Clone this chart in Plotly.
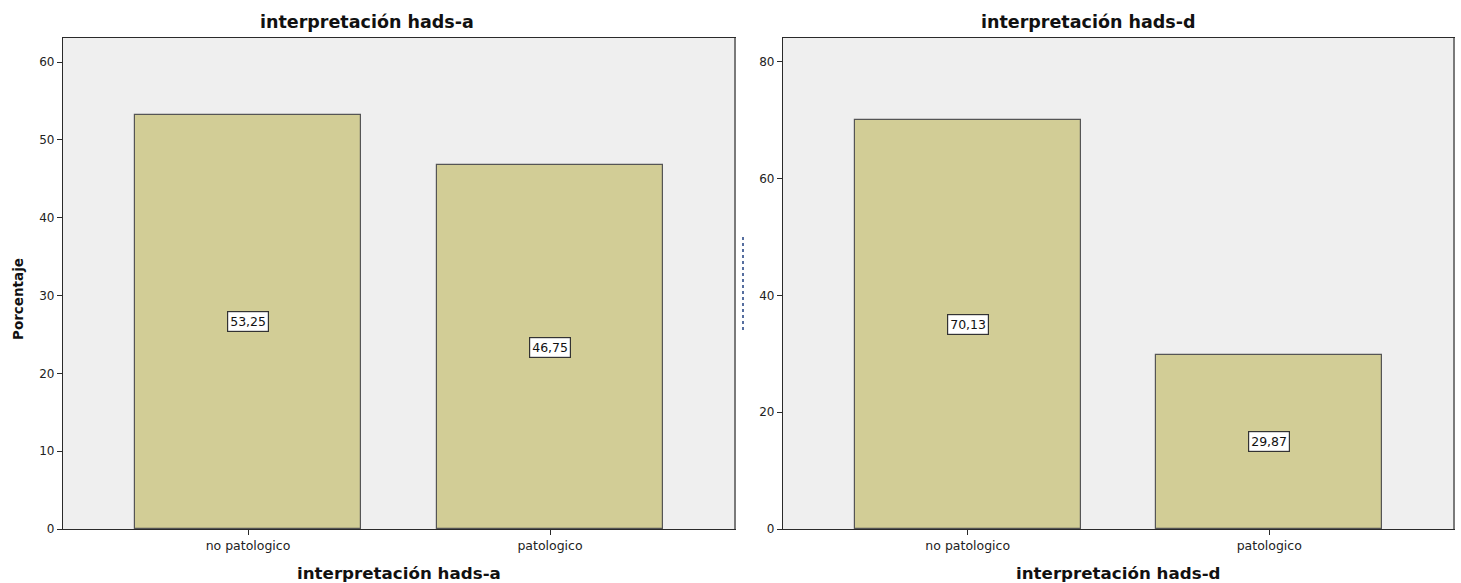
import plotly.graph_objects as go

categories = ["no patologico", "patologico"]
hads_a = [53.25, 46.75]
hads_d = [70.13, 29.87]
titles = ["interpretación hads-a", "interpretación hads-d"]
y_ticks_a = [0, 10, 20, 30, 40, 50, 60]
y_ticks_d = [0, 20, 40, 60, 80]

W, H = 1461, 583
H_EFF = 576  # rendered height observed in the capture
def px_x(p): return p / W
def px_y(p): return 1 - p / H_EFF

BAR = "#d2cd96"
BG = "#efefef"
DARK = "#2a2a2a"
FONT = "DejaVu Sans"

fig = go.Figure()
xs = [0, 1]
for i, (vals, xa, ya) in enumerate([(hads_a, "x", "y"), (hads_d, "x2", "y2")]):
    fig.add_trace(go.Bar(x=xs, y=vals, xaxis=xa, yaxis=ya, width=0.748,
                         marker=dict(color=BAR, line=dict(color="#555555", width=1.2)),
                         showlegend=False, hoverinfo="skip"))
    for xv, v in zip(xs, vals):
        fig.add_annotation(x=xv, y=v / 2, xref=xa, yref=ya, showarrow=False,
                           yanchor="middle",
                           text=f"{v:.2f}".replace(".", ","),
                           font=dict(family=FONT, size=12.5, color="#111111"),
                           bgcolor="white", bordercolor="#333333", borderwidth=1.2, borderpad=2)

xdom1 = [px_x(63), px_x(735)]
xdom2 = [px_x(783), px_x(1454)]
ydom = [px_y(529), px_y(38)]
xrange = [-0.6126, 1.6126]

common_x = dict(range=xrange, tickmode="array", tickvals=xs, ticktext=categories,
                ticks="outside", ticklen=5, tickcolor=DARK, showline=True, linecolor=DARK,
                linewidth=1.2, mirror=True, showgrid=False, zeroline=False,
                tickfont=dict(family=FONT, size=12.5, color="#222222"), fixedrange=True)
common_y = dict(ticks="outside", ticklen=5, tickcolor=DARK, showline=True, linecolor=DARK,
                linewidth=1.2, mirror=True, showgrid=False, zeroline=False,
                tickfont=dict(family=FONT, size=12, color="#222222"), fixedrange=True)

fig.update_layout(
    width=W, height=H, margin=dict(l=0, r=0, t=0, b=0), autosize=False,
    paper_bgcolor="white", plot_bgcolor=BG, bargap=0,
    xaxis=dict(domain=xdom1, anchor="y", **common_x),
    yaxis=dict(domain=ydom, anchor="x", range=[0, 63.1], tickvals=y_ticks_a, **common_y),
    xaxis2=dict(domain=xdom2, anchor="y2", **common_x),
    yaxis2=dict(domain=ydom, anchor="x2", range=[0, 84.1], tickvals=y_ticks_d, **common_y),
)

# titles
for cx, t in [(367, titles[0]), (1088, titles[1])]:
    fig.add_annotation(x=px_x(cx), y=px_y(22), xref="paper", yref="paper", showarrow=False,
                       yanchor="middle", xanchor="center",
                       text=f"<b>{t}</b>", font=dict(family=FONT, size=17.5, color="#111111"))
# x axis titles
for cx, t in [(399, titles[0]), (1118, titles[1])]:
    fig.add_annotation(x=px_x(cx), y=px_y(573), xref="paper", yref="paper", showarrow=False,
                       yanchor="middle", xanchor="center",
                       text=f"<b>{t}</b>", font=dict(family=FONT, size=16.7, color="#111111"))
# y axis title
fig.add_annotation(x=px_x(18), y=px_y(299), xref="paper", yref="paper", showarrow=False,
                   yanchor="middle", xanchor="center",
                   text="<b>Porcentaje</b>", textangle=-90,
                   font=dict(family=FONT, size=13.5, color="#111111"))

# grey right edges of panels
for x1 in [735, 1454]:
    fig.add_shape(type="line", xref="paper", yref="paper", x0=px_x(x1), x1=px_x(x1),
                  y0=px_y(529), y1=px_y(38), line=dict(color="#7a7a7a", width=2))
# clipped remnant of the right panel's y-axis title
fig.add_shape(type="line", xref="paper", yref="paper", x0=px_x(743), x1=px_x(743),
              y0=px_y(330), y1=px_y(235), line=dict(color="#1f3f80", width=1.5, dash="dot"))

post = ("document.body.style.margin='0';document.body.style.padding='0';"
        "document.body.style.overflow='hidden';")
fig.write_html("out.html", post_script=post,
               config={"responsive": False, "displayModeBar": False})
